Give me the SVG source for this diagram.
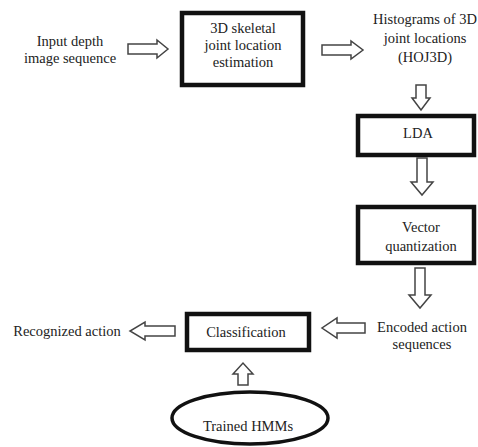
<svg xmlns="http://www.w3.org/2000/svg" width="478" height="447" viewBox="0 0 478 447">
<style>
.t{font-family:"Liberation Serif","Times New Roman",serif;font-size:14.5px;fill:#222;text-anchor:middle}
.box{fill:#fff;stroke:#111;stroke-width:4.5}
.arr{fill:#fff;stroke:#444;stroke-width:1.5;stroke-linejoin:miter}
</style>
<rect width="478" height="447" fill="#fff"/>
<g id="input">
<text class="t" x="70" y="46">Input depth</text>
<text class="t" x="70" y="63">image sequence</text>
</g>
<g id="skeletal">
<rect class="box" x="182" y="13" width="121" height="72"/>
<text class="t" x="243" y="33">3D skeletal</text>
<text class="t" x="243" y="50">joint location</text>
<text class="t" x="243" y="67">estimation</text>
</g>
<g id="hoj3d">
<text class="t" x="425" y="24">Histograms of 3D</text>
<text class="t" x="425" y="43">joint locations</text>
<text class="t" x="425" y="62">(HOJ3D)</text>
</g>
<g id="lda">
<rect class="box" x="358" y="116" width="116" height="39"/>
<text class="t" x="418" y="138">LDA</text>
</g>
<g id="vq">
<rect class="box" x="358" y="207" width="116" height="56"/>
<text class="t" x="421" y="232">Vector</text>
<text class="t" x="421" y="251">quantization</text>
</g>
<g id="encoded">
<text class="t" x="422" y="332">Encoded action</text>
<text class="t" x="422" y="349">sequences</text>
</g>
<g id="classification">
<rect class="box" x="187" y="314" width="122" height="36"/>
<text class="t" x="246" y="337">Classification</text>
</g>
<g id="recognized">
<text class="t" x="67" y="336">Recognized action</text>
</g>
<g id="hmm">
<ellipse cx="250" cy="418" rx="78" ry="26" fill="#fff" stroke="#111" stroke-width="3.5"/>
<text class="t" x="248" y="431">Trained HMMs</text>
</g>
<g id="connectors">
<polygon class="arr" points="128,44 157,44 157,40 168,49 157,58 157,54 128,54"/>
<polygon class="arr" points="322,45 351,45 351,41 363,50 351,59 351,55 322,55"/>
<polygon class="arr" points="416,85 426,85 426,98 430,98 421,110 412,98 416,98"/>
<polygon class="arr" points="417,158 427,158 427,182 433,182 422,195 411,182 417,182"/>
<polygon class="arr" points="415,268 425,268 425,295 431,295 420,308 409,295 415,295"/>
<polygon class="arr" points="365,323 337,323 337,318 322,328 337,338 337,333 365,333"/>
<polygon class="arr" points="175,326 145,326 145,322 130,331 145,340 145,336 175,336"/>
<polygon class="arr" points="238,385 248,385 248,374 253,374 243,363 233,374 238,374"/>
</g>
</svg>
